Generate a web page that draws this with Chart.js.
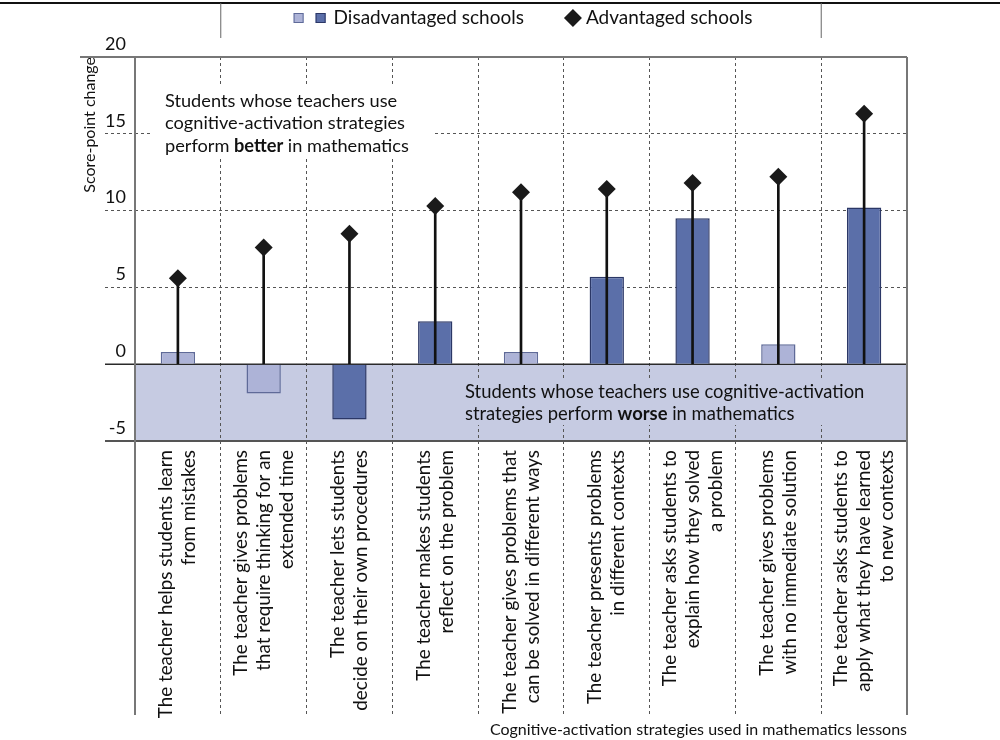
<!DOCTYPE html>
<html>
<head>
<meta charset="utf-8">
<script src="https://cdn.jsdelivr.net/npm/chart.js@4"></script>
<style>
  html, body { margin: 0; padding: 0; background: #fff; }
  #wrap { width: 1000px; height: 740px; position: relative; }
</style>
</head>
<body>
<div id="wrap"><canvas id="chart"></canvas></div>
<script>
// data
const categories = [
  ['The teacher helps students learn', 'from mistakes'],
  ['The teacher gives problems', 'that require thinking for an', 'extended time'],
  ['The teacher lets students', 'decide on their own procedures'],
  ['The teacher makes students', 'reflect on the problem'],
  ['The teacher gives problems that', 'can be solved in different ways'],
  ['The teacher presents problems', 'in different contexts'],
  ['The teacher asks students to', 'explain how they solved', 'a problem'],
  ['The teacher gives problems', 'with no immediate solution'],
  ['The teacher asks students to', 'apply what they have learned', 'to new contexts']
];
const disadvantaged = [0.8, -1.9, -3.6, 2.8, 0.8, 5.7, 9.5, 1.3, 10.2];
const disadvSignificant = [false, false, true, true, false, true, true, false, true];
const advantaged = [5.6, 7.6, 8.5, 10.3, 11.2, 11.4, 11.8, 12.2, 16.3];
const yMin = -5, yMax = 20, yStep = 5;
const legendLabels = ['Disadvantaged schools', 'Advantaged schools'];
const yTitle = 'Score-point change';
const xTitle = 'Cognitive-activation strategies used in mathematics lessons';
// [text, bold]
const noteBetter = [
  [['Students whose teachers use', false]],
  [['cognitive-activation strategies', false]],
  [['perform ', false], ['better', true], [' in mathematics', false]]
];
const noteWorse = [
  [['Students whose teachers use cognitive-activation', false]],
  [['strategies perform ', false], ['worse', true], [' in mathematics', false]]
];

const FONT = 'Lato, "Noto Sans", sans-serif';
const LIGHT = '#adb3d7', LIGHT_EDGE = '#5f6a98';
const DARK = '#5b6fa9', DARK_EDGE = '#2b3766';
const BAND = '#c6cbe2';
const GRID = '#555';

function drawNote(ctx, lines, x, y0, lh, size) {
  ctx.textBaseline = 'middle';
  ctx.textAlign = 'left';
  ctx.fillStyle = '#111';
  lines.forEach((segs, i) => {
    let cx = x;
    segs.forEach(([t, b]) => {
      ctx.font = (b ? 'bold ' : '') + size + 'px ' + FONT;
      ctx.fillText(t, cx, y0 + i * lh);
      cx += ctx.measureText(t).width;
    });
  });
}

const decor = {
  id: 'decor',
  beforeDraw(chart) {
    const { ctx, chartArea: ca, scales: { y } } = chart;
    const y0 = y.getPixelForValue(0), y5 = y.getPixelForValue(yMin);
    ctx.save();
    ctx.fillStyle = BAND;
    ctx.fillRect(ca.left, y0, ca.right - ca.left, y5 - y0);
    ctx.restore();
  },
  beforeDatasetsDraw(chart) {
    const { ctx, chartArea: ca, scales: { x, y } } = chart;
    const bottom = ca.bottom + x.options.grid.tickLength;
    ctx.save();
    // note boxes
    ctx.fillStyle = '#fff';
    ctx.fillRect(150, 87, 284, 71);
    drawNote(ctx, noteBetter, 165, 101, 22.5, 18.2);
    ctx.fillStyle = BAND;
    ctx.fillRect(455, 379, 445, 46);
    drawNote(ctx, noteWorse, 465, 392, 22, 18.4);

    // frame lines
    const line = (x1, y1, x2, y2, c, w) => {
      ctx.strokeStyle = c; ctx.lineWidth = w;
      ctx.beginPath(); ctx.moveTo(x1, y1); ctx.lineTo(x2, y2); ctx.stroke();
    };
    const yTop = y.getPixelForValue(yMax);
    line(ca.left - 55, yTop, ca.right, yTop, '#777', 2);
    line(ca.left - 30, y.getPixelForValue(0), ca.right, y.getPixelForValue(0), '#2a2a2a', 1.5);
    line(ca.left - 30, y.getPixelForValue(yMin), ca.right, y.getPixelForValue(yMin), '#555', 2);
    line(ca.left, yTop, ca.left, bottom, '#777', 2);
    line(ca.right, yTop, ca.right, bottom, '#777', 2);
    ctx.restore();
  },
  afterDraw(chart) {
    const { ctx, chartArea: ca, scales: { x } } = chart;
    const step = (ca.right - ca.left) / categories.length;
    ctx.save();

    // category labels, rotated
    ctx.font = '18.8px ' + FONT;
    ctx.fillStyle = '#111';
    ctx.textAlign = 'right';
    ctx.textBaseline = 'middle';
    const lh = 23;
    categories.forEach((lines, i) => {
      const cx = x.getPixelForValue(i);
      lines.forEach((t, j) => {
        const off = (j - (lines.length - 1) / 2) * lh;
        ctx.save();
        ctx.translate(cx + off, ca.bottom + 9);
        ctx.rotate(-Math.PI / 2);
        ctx.fillText(t, 0, 0);
        ctx.restore();
      });
    });

    // legend strip
    ctx.strokeStyle = '#111'; ctx.lineWidth = 2;
    ctx.beginPath(); ctx.moveTo(0, 3); ctx.lineTo(chart.width, 3); ctx.stroke();
    const bx1 = ca.left + step, bx2 = ca.left + 8 * step;
    ctx.strokeStyle = '#666'; ctx.lineWidth = 1;
    ctx.beginPath();
    ctx.moveTo(bx1, 3); ctx.lineTo(bx1, 38);
    ctx.moveTo(bx2, 3); ctx.lineTo(bx2, 38);
    ctx.stroke();

    ctx.font = '19px ' + FONT;
    ctx.textAlign = 'left';
    const w1 = ctx.measureText(legendLabels[0]).width;
    const w2 = ctx.measureText(legendLabels[1]).width;
    const total = 10 + 12 + 10 + 8 + w1 + 40 + 18 + 4 + w2;
    let lx = (bx1 + bx2) / 2 + 2 - total / 2;
    const ly = 18;
    ctx.lineWidth = 1;
    ctx.fillStyle = LIGHT; ctx.strokeStyle = LIGHT_EDGE;
    ctx.fillRect(lx, ly - 5, 10, 10); ctx.strokeRect(lx + 0.5, ly - 4.5, 9, 9);
    lx += 22;
    ctx.fillStyle = DARK; ctx.strokeStyle = DARK_EDGE;
    ctx.fillRect(lx, ly - 5, 10, 10); ctx.strokeRect(lx + 0.5, ly - 4.5, 9, 9);
    lx += 18;
    ctx.fillStyle = '#111';
    ctx.fillText(legendLabels[0], lx, ly);
    lx += w1 + 40;
    ctx.beginPath();
    ctx.moveTo(lx, ly); ctx.lineTo(lx + 9, ly - 9); ctx.lineTo(lx + 18, ly); ctx.lineTo(lx + 9, ly + 9);
    ctx.closePath();
    ctx.fillStyle = '#1a1a1a'; ctx.fill();
    lx += 22;
    ctx.fillStyle = '#111';
    ctx.fillText(legendLabels[1], lx, ly);
    ctx.restore();
  }
};

const labels = categories.map(l => l.join(' '));

new Chart(document.getElementById('chart'), {
  type: 'bar',
  data: {
    labels: labels,
    datasets: [
      {
        label: legendLabels[0],
        data: disadvantaged,
        backgroundColor: disadvSignificant.map(s => s ? DARK : LIGHT),
        borderColor: disadvSignificant.map(s => s ? DARK_EDGE : LIGHT_EDGE),
        borderWidth: 1.5,
        barPercentage: 0.4,
        categoryPercentage: 1,
        grouped: false,
        order: 3
      },
      {
        label: 'stem',
        data: advantaged.map(v => [0, v]),
        backgroundColor: '#111',
        borderWidth: 0,
        barThickness: 2,
        grouped: false,
        order: 2
      },
      {
        type: 'line',
        label: legendLabels[1],
        data: advantaged,
        showLine: false,
        pointStyle: 'rectRot',
        pointRadius: 9,
        pointBackgroundColor: '#1a1a1a',
        pointBorderColor: '#1a1a1a',
        pointBorderWidth: 0,
        order: 1
      }
    ]
  },
  options: {
    responsive: true,
    maintainAspectRatio: false,
    animation: false,
    events: [],
    layout: { padding: { top: 57, right: 93, left: 0, bottom: 0 } },
    plugins: { legend: { display: false }, tooltip: { enabled: false } },
    scales: {
      x: {
        offset: true,
        grid: {
          offset: true,
          color: c => (c.index === undefined || c.index === 0) ? 'rgba(0,0,0,0)' : GRID,
          tickColor: c => (c.index === undefined || c.index === 0) ? 'rgba(0,0,0,0)' : GRID,
          lineWidth: 1,
          tickWidth: 1,
          tickLength: 274,
          tickBorderDash: [3, 3]
        },
        border: { display: false, dash: [3, 3] },
        ticks: { display: false },
        title: {
          display: true,
          text: xTitle,
          align: 'end',
          color: '#111',
          font: { family: FONT, size: 16 },
          padding: { top: 0, bottom: 1 }
        },
        afterFit: s => { s.height = 299; }
      },
      y: {
        min: yMin,
        max: yMax,
        ticks: {
          stepSize: yStep,
          padding: -21,
          labelOffset: -13,
          color: '#111',
          font: { family: FONT, size: 18 }
        },
        grid: {
          color: c => (c.tick && c.tick.value > 0 && c.tick.value < yMax) ? GRID : 'rgba(0,0,0,0)',
          tickColor: c => (c.tick && c.tick.value > 0 && c.tick.value < yMax) ? GRID : 'rgba(0,0,0,0)',
          lineWidth: 1,
          tickLength: 30,
          tickBorderDash: [3, 3]
        },
        border: { display: false, dash: [3, 3] },
        title: {
          display: true,
          text: yTitle,
          align: 'end',
          color: '#111',
          font: { family: FONT, size: 16 },
          padding: { top: 80, bottom: 0 }
        },
        afterFit: s => { s.width = 135; }
      }
    }
  },
  plugins: [decor]
});
</script>
</body>
</html>
